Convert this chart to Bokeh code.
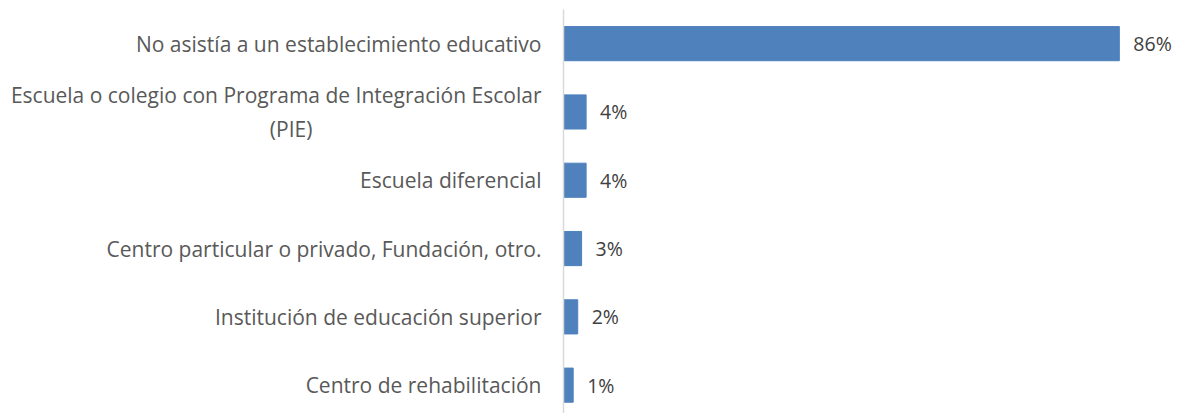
from bokeh.plotting import figure
from bokeh.models import Range1d, ColumnDataSource, FixedTicker
from bokeh.core.properties import value
from bokeh.embed import file_html
from bokeh.resources import INLINE

categories = [
    "No asistía a un establecimiento educativo",
    "Escuela o colegio con Programa de Integración Escolar\n(PIE)" + "\u00a0" * 42,
    "Escuela diferencial",
    "Centro particular o privado, Fundación, otro.",
    "Institución de educación superior",
    "Centro de rehabilitación",
]
values = [86, 3.5, 3.5, 2.8, 2.2, 1.5]
labels = ["86%", "4%", "4%", "3%", "2%", "1%"]

FONT = "Open Sans"
GRAY = "#595959"

pos = list(range(len(categories)))
src = ColumnDataSource(dict(y=pos, v=values, lab=labels))

p = figure(width=1177, height=413, output_backend="svg", toolbar_location=None,
           x_range=Range1d(0, 95.0), y_range=Range1d(5.415, -0.5),
           min_border_left=563, min_border_right=0, min_border_top=9, min_border_bottom=0)

p.hbar(y="y", left=0, right="v", height=0.5, source=src,
       fill_color="#4F81BD", line_color="#4F81BD")
p.text(x="v", y="y", text="lab", source=src, x_offset=14,
       text_align="left", text_baseline="middle",
       text_font=value(FONT), text_font_size="19.5px", text_color="#404040")

p.xaxis.visible = False
p.xgrid.visible = False
p.ygrid.visible = False
p.outline_line_color = None

ya = p.yaxis[0]
ya.ticker = FixedTicker(ticks=pos)
ya.major_label_overrides = {i: c for i, c in enumerate(categories)}
ya.major_tick_line_color = None
ya.minor_tick_line_color = None
ya.axis_line_color = "#D9D9D9"
ya.axis_line_width = 1.5
ya.major_label_standoff = 16
ya.major_label_text_font = FONT
ya.major_label_text_font_size = "21px"
ya.major_label_text_color = GRAY

open("out.html", "w").write(file_html(p, INLINE))
